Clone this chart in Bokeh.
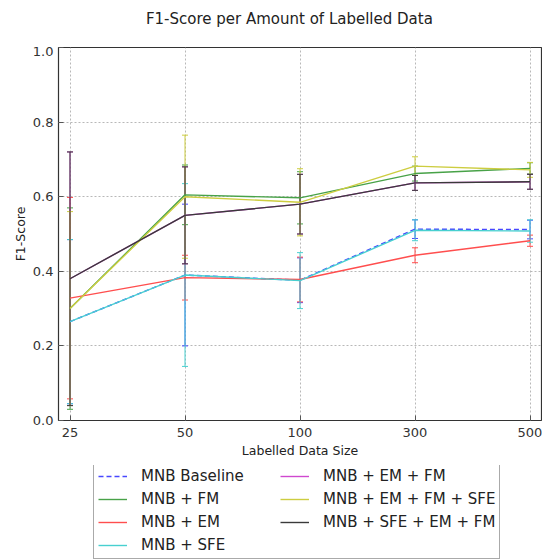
from bokeh.plotting import figure
from bokeh.layouts import column
from bokeh.models import (ColumnDataSource, Whisker, TeeHead, FixedTicker, Legend,
                          LegendItem, Range1d, Label)
from bokeh.embed import file_html
from bokeh.resources import INLINE

# ---- data ----
title_text = "F1-Score per Amount of Labelled Data"
sizes = ["25", "50", "100", "300", "500"]
series_names = ["MNB Baseline", "MNB + FM", "MNB + EM", "MNB + SFE",
                "MNB + EM + FM", "MNB + EM + FM + SFE", "MNB + SFE + EM + FM"]
baseline = [0.265, 0.390, 0.376, 0.513, 0.512]
baseline_err = [0.22, 0.19, 0.06, 0.025, 0.025]
fm = [0.300, 0.605, 0.597, 0.662, 0.676]
fm_err = [0.27, 0.08, 0.07, 0.02, 0.015]
em = [0.328, 0.383, 0.378, 0.443, 0.482]
em_err = [0.27, 0.06, 0.06, 0.02, 0.015]
sfe = [0.265, 0.390, 0.375, 0.510, 0.508]
sfe_err = [0.22, 0.245, 0.075, 0.028, 0.03]
em_fm = [0.380, 0.550, 0.580, 0.637, 0.640]
em_fm_err = [0.34, 0.13, 0.08, 0.02, 0.02]
em_fm_sfe = [0.300, 0.600, 0.585, 0.682, 0.672]
em_fm_sfe_err = [0.26, 0.165, 0.09, 0.025, 0.02]
sfe_em_fm = [0.380, 0.550, 0.580, 0.637, 0.640]
sfe_em_fm_err = [0.34, 0.13, 0.08, 0.02, 0.02]

values = [baseline, fm, em, sfe, em_fm, em_fm_sfe, sfe_em_fm]
errors = [baseline_err, fm_err, em_err, sfe_err, em_fm_err, em_fm_sfe_err, sfe_em_fm_err]
colors = ["#4848ff", "#48a248", "#ff4e4e", "#48d0d0", "#cf48cf", "#cdcd40", "#3a3a3a"]
dashes = ["5 3", "solid", "solid", "solid", "solid", "solid", "solid"]

FONT = "DejaVu Sans"
xs = list(range(len(sizes)))
yticks = [0.0, 0.2, 0.4, 0.6, 0.8, 1.0]

# ---- title panel ----
tp = figure(width=542, height=46, output_backend="svg", toolbar_location=None,
            x_axis_type=None, y_axis_type=None, x_range=Range1d(0, 1),
            y_range=Range1d(0, 1), min_border=0, min_border_left=58,
            min_border_right=1)
tp.outline_line_color = None
tp.grid.visible = False
tp.add_layout(Label(x=0.478, y=0.6, text=title_text, text_align="center",
                    text_baseline="middle", text_font=FONT,
                    text_font_size="15px", text_color="#222222"))

# ---- main plot ----
p = figure(width=542, height=419, output_backend="svg", toolbar_location=None,
           x_range=Range1d(-0.1, 4.1), y_range=Range1d(0, 1.0),
           min_border_left=58, min_border_right=1, min_border_top=1,
           min_border_bottom=45)

p.outline_line_color = "#333333"
p.outline_line_width = 1.2

for name, v, e, c, d in zip(series_names, values, errors, colors, dashes):
    src = ColumnDataSource(dict(x=xs, y=v,
                                lo=[a - b for a, b in zip(v, e)],
                                hi=[a + b for a, b in zip(v, e)]))
    w = Whisker(source=src, base="x", lower="lo", upper="hi",
                line_color=c, line_width=1,
                upper_head=TeeHead(size=6, line_color=c, line_width=1),
                lower_head=TeeHead(size=6, line_color=c, line_width=1))
    p.add_layout(w)
    p.line("x", "y", source=src, line_color=c, line_width=1.4, line_dash=d)

# axes
p.xaxis.ticker = FixedTicker(ticks=xs)
p.xaxis.major_label_overrides = {i: s for i, s in zip(xs, sizes)}
p.yaxis.ticker = FixedTicker(ticks=yticks)
p.yaxis.major_label_overrides = {t: f"{t:.1f}" for t in yticks}
p.xaxis.axis_label = "Labelled Data Size"
p.yaxis.axis_label = "F1-Score"
for ax in [p.xaxis[0], p.yaxis[0]]:
    ax.major_tick_in = 5
    ax.major_tick_out = 0
    ax.minor_tick_line_color = None
    ax.axis_line_color = None
    ax.major_label_text_font = FONT
    ax.major_label_text_font_size = "13px"
    ax.major_label_text_color = "#333333"
    ax.axis_label_text_font = FONT
    ax.axis_label_text_font_size = "12.5px"
    ax.axis_label_text_font_style = "normal"
    ax.axis_label_text_color = "#222222"
    ax.major_tick_line_color = "#555555"
p.xaxis.major_label_standoff = 7
p.xaxis.axis_label_standoff = 3
p.yaxis.major_label_standoff = 5
p.yaxis.axis_label_standoff = 2

# grid
p.grid.grid_line_color = "#b8b8b8"
p.grid.grid_line_dash = "2 2"
p.grid.grid_line_width = 1
p.xgrid.ticker = FixedTicker(ticks=xs)
p.ygrid.ticker = FixedTicker(ticks=yticks)

# ---- legend panel (separate figure below) ----
lg = figure(width=542, height=95, output_backend="svg", toolbar_location=None,
            x_axis_type=None, y_axis_type=None, x_range=Range1d(0, 1),
            y_range=Range1d(0, 1), min_border=0)
lg.outline_line_color = None
lg.grid.visible = False
items = []
for name, c, d in zip(series_names, colors, dashes):
    # legend swatch only: data lies outside the visible range
    r = lg.line(x=[-5, -4], y=[-5, -4], line_color=c, line_width=1.4, line_dash=d)
    items.append(LegendItem(label=name, renderers=[r]))

legend = Legend(items=items, ncols=2, orientation="vertical",
                location=(35, 1),
                label_text_font=FONT, label_text_font_size="15px",
                label_text_color="#222222",
                glyph_width=29, glyph_height=18, label_height=18,
                label_width=134,
                spacing=5, padding=4, margin=0,
                border_line_color="#555555", border_line_width=1,
                label_standoff=14, background_fill_alpha=1)
lg.add_layout(legend, "center")

layout = column(tp, p, lg, spacing=0)
open("out.html", "w").write(file_html(layout, INLINE))
